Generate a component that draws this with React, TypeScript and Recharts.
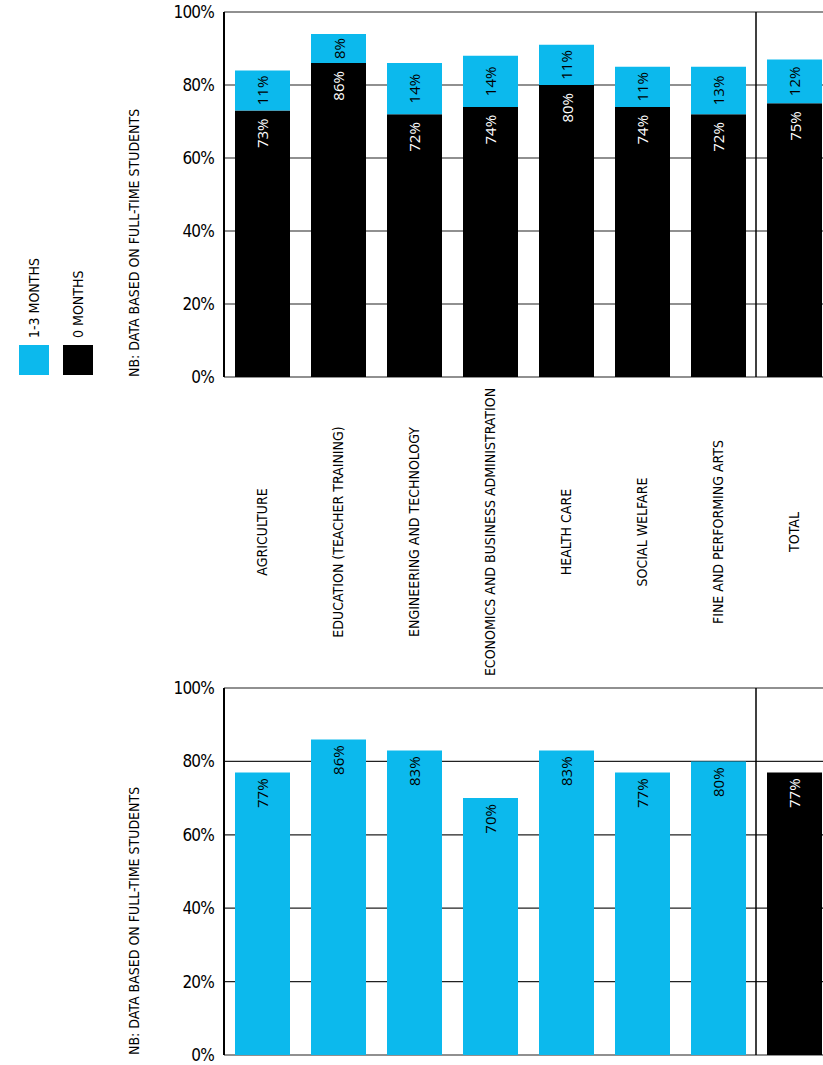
import React from "react";
import {
  BarChart,
  Bar,
  XAxis,
  YAxis,
  CartesianGrid,
  ReferenceLine,
  LabelList,
  Cell,
} from "recharts";

const categories = [
  "AGRICULTURE",
  "EDUCATION (TEACHER TRAINING)",
  "ENGINEERING AND TECHNOLOGY",
  "ECONOMICS AND BUSINESS ADMINISTRATION",
  "HEALTH CARE",
  "SOCIAL WELFARE",
  "FINE AND PERFORMING ARTS",
  "TOTAL",
];
const zeroMonths = [73, 86, 72, 74, 80, 74, 72, 75];
const oneToThreeMonths = [11, 8, 14, 14, 11, 11, 13, 12];
const secondValues = [77, 86, 83, 70, 83, 77, 80, 77];
const yTicks = [0, 20, 40, 60, 80, 100];
const legendItems = [
  { label: "1-3 MONTHS", color: "#0cb9ed" },
  { label: "0 MONTHS", color: "#000000" },
];
const noteText = "NB: DATA BASED ON FULL-TIME STUDENTS";

const BLUE = "#0cb9ed";
const NARROW = "'Liberation Sans Narrow', 'DejaVu Sans Condensed', 'Roboto Condensed', sans-serif";
const LABEL_FONT = "'Open Sans', 'Noto Sans', sans-serif";

const topData = categories.map((name, i) => ({
  name,
  zero: zeroMonths[i],
  some: oneToThreeMonths[i],
}));
const bottomData = categories.map((name, i) => ({ name, value: secondValues[i] }));

const CategoryTick = (props: any) => {
  const { x, y, payload } = props;
  const cy = y + 155;
  return (
    <text
      x={x}
      y={cy}
      transform={`rotate(-90 ${x} ${cy})`}
      textAnchor="middle"
      dominantBaseline="central"
      fontFamily={NARROW}
      fontSize={14}
      fill="#000"
    >
      {payload.value}
    </text>
  );
};

const NoteLabel = (props: any) => {
  const { viewBox } = props;
  const x = viewBox.x + 134;
  const y = viewBox.y + viewBox.height;
  return (
    <text
      x={x}
      y={y}
      transform={`rotate(-90 ${x} ${y})`}
      textAnchor="start"
      dominantBaseline="central"
      fontFamily={NARROW}
      fontSize={14}
      fill="#000"
    >
      {noteText}
    </text>
  );
};

// label sitting just under the top of a bar / segment
const TopInsideLabel = (color: string | ((i: number) => string), pad: number) => (props: any) => {
  const { x, y, width, value, index } = props;
  const cx = x + width / 2;
  const ty = y + pad;
  const fill = typeof color === "function" ? color(index) : color;
  return (
    <text
      x={cx}
      y={ty}
      transform={`rotate(-90 ${cx} ${ty})`}
      textAnchor="end"
      dominantBaseline="central"
      fontFamily={LABEL_FONT}
      fontSize={15}
      fill={fill}
    >
      {value}%
    </text>
  );
};

const CenterLabel = (props: any) => {
  const { x, y, width, height, value } = props;
  const cx = x + width / 2;
  const cy = y + height / 2;
  return (
    <text
      x={cx}
      y={cy}
      transform={`rotate(-90 ${cx} ${cy})`}
      textAnchor="middle"
      dominantBaseline="central"
      fontFamily={LABEL_FONT}
      fontSize={15}
      fill="#000"
    >
      {value}%
    </text>
  );
};

const yTick = { fill: "#000", fontSize: 17, fontFamily: NARROW, letterSpacing: -0.8 };

function Legend() {
  return (
    <svg width={110} height={390} style={{ position: "absolute", left: 0, top: 0 }}>
      {legendItems.map((item, i) => {
        const x = 19 + i * 44;
        const tx = x + 15;
        return (
          <g key={item.label}>
            <rect x={x} y={345} width={30} height={30} fill={item.color} />
            <text
              x={tx}
              y={338}
              transform={`rotate(-90 ${tx} 338)`}
              textAnchor="start"
              dominantBaseline="central"
              fontFamily={NARROW}
              fontSize={14}
              fill="#000"
            >
              {item.label}
            </text>
          </g>
        );
      })}
    </svg>
  );
}

export default function App() {
  return (
    <div
      style={{
        position: "absolute",
        left: 0,
        top: 0,
        width: 823,
        height: 1065,
        overflow: "hidden",
        background: "#fff",
      }}
    >
      <Legend />
      <div style={{ position: "absolute", left: 0, top: 0 }}>
        <BarChart
          width={840}
          height={690}
          data={topData}
          margin={{ top: 12, right: 8, left: 0, bottom: 0 }}
          barSize={55}
        >
          <CartesianGrid vertical={false} stroke="#222" strokeWidth={1.2} />
          <XAxis
            dataKey="name"
            height={313}
            axisLine={false}
            tickLine={false}
            tickSize={0}
            tickMargin={0}
            interval={0}
            tick={<CategoryTick />}
          />
          <YAxis
            width={224}
            domain={[0, 100]}
            ticks={yTicks}
            tickFormatter={(v) => `${v}%`}
            tickLine={false}
            tickMargin={4}
            axisLine={{ stroke: "#000", strokeWidth: 2 }}
            tick={yTick}
            label={<NoteLabel />}
          />
          <ReferenceLine x="TOTAL" position="start" stroke="#000" strokeWidth={1.5} />
          <Bar dataKey="zero" stackId="a" fill="#000" isAnimationActive={false}>
            <LabelList dataKey="zero" content={TopInsideLabel("#fff", 8)} />
          </Bar>
          <Bar dataKey="some" stackId="a" fill={BLUE} isAnimationActive={false}>
            <LabelList dataKey="some" content={CenterLabel} />
          </Bar>
        </BarChart>
      </div>
      <div style={{ position: "absolute", left: 0, top: 676 }}>
        <BarChart
          width={840}
          height={400}
          data={bottomData}
          margin={{ top: 12, right: 8, left: 0, bottom: 21 }}
          barSize={55}
        >
          <CartesianGrid vertical={false} stroke="#222" strokeWidth={1.2} />
          <XAxis dataKey="name" hide />
          <YAxis
            width={224}
            domain={[0, 100]}
            ticks={yTicks}
            tickFormatter={(v) => `${v}%`}
            tickLine={false}
            tickMargin={4}
            axisLine={{ stroke: "#000", strokeWidth: 2 }}
            tick={yTick}
            label={<NoteLabel />}
          />
          <ReferenceLine x="TOTAL" position="start" stroke="#000" strokeWidth={1.5} />
          <Bar dataKey="value" fill={BLUE} isAnimationActive={false}>
            {bottomData.map((d) => (
              <Cell key={d.name} fill={d.name === "TOTAL" ? "#000" : BLUE} />
            ))}
            <LabelList
              dataKey="value"
              content={TopInsideLabel((i) => (bottomData[i]?.name === "TOTAL" ? "#fff" : "#000"), 6)}
            />
          </Bar>
        </BarChart>
      </div>
    </div>
  );
}
